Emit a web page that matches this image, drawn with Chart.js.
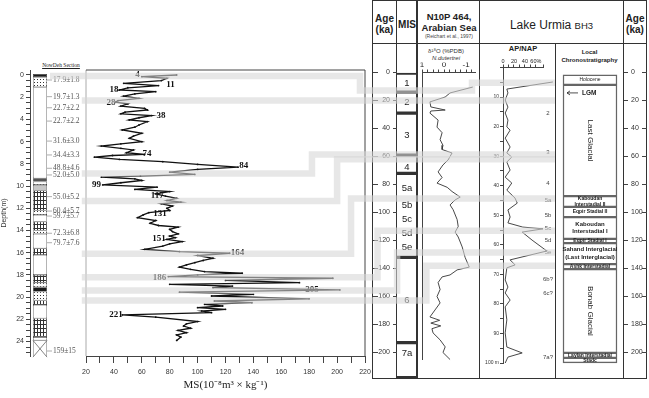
<!DOCTYPE html>
<html>
<head>
<meta charset="utf-8">
<script src="https://cdn.jsdelivr.net/npm/chart.js@4.4.1/dist/chart.umd.min.js"></script>
<style>
  html, body { margin: 0; padding: 0; background: #fff; }
  #fig { position: relative; width: 649px; height: 398px; overflow: hidden; font-family: "Liberation Sans", Arial, sans-serif; color: #222; }
  #fig canvas { position: absolute; left: 0; top: 0; }
  .t { position: absolute; text-align: center; white-space: nowrap; line-height: 1.1; }
  .ln { position: absolute; background: #333; }
</style>
</head>
<body>
<div id="fig">
  <!-- table lines of the right panel -->
  <div class="ln" style="left:372px;top:0;width:1px;height:379px"></div>
  <div class="ln" style="left:396px;top:0;width:1px;height:379px"></div>
  <div class="ln" style="left:416px;top:0;width:2px;height:379px"></div>
  <div class="ln" style="left:479px;top:0;width:1px;height:379px"></div>
  <div class="ln" style="left:555px;top:43px;width:1px;height:336px"></div>
  <div class="ln" style="left:623px;top:0;width:1px;height:379px"></div>
  <div class="ln" style="left:646px;top:0;width:1px;height:379px"></div>
  <div class="ln" style="left:372px;top:0;width:275px;height:1px"></div>
  <div class="ln" style="left:372px;top:43px;width:275px;height:1px"></div>
  <div class="ln" style="left:372px;top:378px;width:275px;height:1px"></div>

  <!-- headers -->
  <div class="t" style="left:40px;top:62px;width:42px;font-size:5.5px;font-family:'Liberation Serif',serif;text-decoration:underline">NowDeh Section</div>
  <div class="t" style="left:372px;top:13px;width:25px;font-weight:bold;font-size:10px;line-height:11px">Age<br>(ka)</div>
  <div class="t" style="left:397px;top:19px;width:20px;font-weight:bold;font-size:10px">MIS</div>
  <div class="t" style="left:418px;top:11px;width:62px;font-weight:bold;font-size:9.5px;line-height:11px">N10P 464,<br>Arabian Sea</div>
  <div class="t" style="left:418px;top:34px;width:62px;font-size:5px;color:#444">(Reichart et al., 1997)</div>
  <div class="t" style="left:418px;top:48px;width:56px;font-size:6px;line-height:7px;color:#333">δ¹⁸O (%PDB)<br><i>N.dutertrei</i></div>
  <div class="t" style="left:480px;top:19px;width:143px;font-size:12px">Lake Urmia <span style="font-size:9.5px">BH3</span></div>
  <div class="t" style="left:623px;top:13px;width:24px;font-weight:bold;font-size:10px;line-height:11px">Age<br>(ka)</div>
  <div class="t" style="left:490px;top:45px;width:66px;font-weight:bold;font-size:7.5px">AP/NAP</div>
  <div class="t" style="left:556px;top:48px;width:67px;font-weight:bold;font-size:6px;line-height:8px">Local<br>Chronostratigraphy</div>

  <canvas id="col" width="649" height="398"></canvas>
  <canvas id="ms" width="649" height="398"></canvas>
  <canvas id="mis" width="649" height="398"></canvas>
  <canvas id="n10p" width="649" height="398"></canvas>
  <canvas id="ap" width="649" height="398"></canvas>
  <canvas id="chrono" width="649" height="398"></canvas>
  <canvas id="ageR" width="649" height="398"></canvas>
  <canvas id="bands" width="649" height="398"></canvas>
</div>

<script>
// ---------- NowDeh section (depth in m) ----------
const layerBounds = [-0.1, 0.2, 1.1, 9.3, 9.6, 9.9, 10.4, 12.2, 12.6, 13.2, 14.0, 14.3, 15.6, 16.2, 18.0, 18.7, 19.1, 19.5, 20.3, 20.7, 21.9, 23.6, 23.9, 25.4];
const layerType = ['black', 'dots', 'white', 'dark', 'dots', 'grey', 'brick', 'dots', 'white', 'brick', 'dots', 'white',
  'brick', 'white', 'brick', 'dots', 'black', 'dots', 'brick', 'white', 'brick', 'white', 'cross'];

const oslText = ['17.9±1.8', '19.7±1.3', '22.7±2.2', '22.7±2.2', '31.6±3.0', '34.4±3.3', '48.8±4.6', '52.0±5.0',
  '55.0±5.2', '60.4±5.7', '59.7±5.7', '72.3±6.8', '79.7±7.6', '159±15'];
const oslDepth = [0.45, 1.95, 2.95, 4.15, 5.95, 7.2, 8.4, 9.0, 10.95, 12.25, 12.7, 14.25, 15.1, 24.85];

// magnetic susceptibility profile
const msDepth = [0.0, 0.15, 0.3, 0.5, 0.75, 0.95, 1.15, 1.35, 1.5, 1.7, 1.9, 2.1, 2.3, 2.45, 2.6, 2.8, 3.0, 3.15, 3.35, 3.5,
  3.65, 3.85, 4.05, 4.2, 4.5, 4.7, 4.95, 5.25, 5.5, 5.7, 6.0, 6.2, 6.4, 6.6, 6.75, 7.0, 7.15, 7.25, 7.4, 7.6,
  7.8, 8.05, 8.3, 8.5, 8.75, 8.95, 9.1, 9.2, 9.35, 9.5, 9.7, 9.9, 10.1, 10.3, 10.5, 10.7, 10.9, 11.1, 11.3, 11.45,
  11.6, 11.8, 12.0, 12.2, 12.4, 12.6, 12.85, 13.1, 13.35, 13.55, 13.7, 13.9, 14.1, 14.3, 14.5, 14.65, 14.8, 15.0, 15.2, 15.4,
  15.7, 15.9, 16.05, 16.25, 16.5, 16.7, 16.9, 17.1, 17.3, 17.5, 17.7, 17.85, 18.0, 18.15, 18.3, 18.5, 18.7, 18.85, 19.0, 19.15,
  19.35, 19.55, 19.75, 19.9, 20.15, 20.35, 20.5, 20.65, 20.8, 20.95, 21.1, 21.25, 21.4, 21.6, 21.8, 22.2, 22.4, 22.6, 22.8, 23.0,
  23.2, 23.4, 23.6, 23.9];
const msValue = [85, 60, 78, 74, 47, 72, 50, 44, 70, 55, 47, 58, 43, 41, 50, 45, 62, 64, 48, 45,
  67, 58, 51, 64, 58, 55, 46, 60, 54, 51, 60, 45, 31, 45, 54, 49, 62, 39, 26, 44,
  75, 100, 129, 100, 80, 98, 59, 31, 55, 60, 45, 32, 71, 55, 80, 70, 77, 85, 78, 88,
  74, 82, 78, 80, 65, 61, 57, 70, 66, 72, 86, 80, 82, 86, 80, 84, 78, 89, 80, 75,
  62, 87, 123, 100, 111, 104, 98, 92, 87, 95, 105, 132, 100, 79, 197, 120, 173, 80, 125, 111,
  202, 87, 140, 110, 180, 112, 139, 105, 118, 100, 120, 103, 110, 46, 70, 100, 92, 90, 95, 86,
  92, 85, 88, 85];

// age labels written along the MS curve
const msLabelText = ['4', '11', '18', '28', '38', '74', '84', '99', '117', '131', '151', '164', '186', '205', '221'];
const msLabelDepth = [0.0, 0.9, 1.35, 2.52, 3.7, 7.1, 8.2, 9.9, 10.9, 12.45, 14.76, 16.0, 18.25, 19.36, 21.6];
const msLabelValue = [57, 80.6, 40, 38, 73.8, 63.7, 133, 27.5, 71, 73, 72.3, 128.6, 72.7, 182, 41.5];

// ---------- marine isotope stages (ka) ----------
const misBounds = [0, 14, 29, 59, 72, 132, 193, 218];
const misLabel = ['1', '2', '3', '4', '5a', '5b', '5c', '5d', '5e', '6', '7a'];
const misLabelAge = [7.5, 21, 44.6, 67.5, 82.5, 94.6, 104.6, 115, 125, 162.5, 200.4];

// N10P 464 delta18O
const o18Age = [10.4, 14.6, 17.5, 21, 24.6, 26.8, 27.5, 29, 34, 39, 43, 48, 52, 55, 57.5, 62.5, 66, 71, 75, 79, 82, 85, 89, 91,
  94.6, 98, 105, 110, 114, 117.5, 124.6, 132, 139, 141, 144.6, 146, 150, 155, 160, 164.6, 169.6, 174.6, 177, 179, 181, 183,
  186, 191, 196, 200, 205];
const o18Value = [-1.3, -0.27, -0.05, 0.64, 0.6, -0.05, 0.6, 0.64, 0.27, 0.32, 0.09, 0.18, 0.05, 0.09, -0.36, -0.18, 0.05, 0.27,
  0.09, 0.32, -0.14, -0.36, -0.73, -0.5, -0.27, -0.41, -0.59, -0.64, -0.5, -0.64, -0.82, -0.95, -1.14, -0.59, -0.27, 0.09,
  0.27, 0.18, 0.32, 0.18, 0.41, 0.64, 0.2, 0.6, 0.15, 0.55, 0.5, 0.18, -0.05, 0.05, -0.27];

// ---------- Lake Urmia BH3 (core depth in m) ----------
const apDepth = [4.9, 7.3, 8.6, 11, 13.4, 15.4, 17.8, 20.1, 21.2, 23.9, 26.9, 28.9, 30.3, 32, 34.7, 37.1, 39.1, 41.5, 44.2, 45.9,
  48.2, 50.6, 52.6, 54, 54.6, 55.7, 58.4, 62.1, 65.1, 66.8, 67.8, 71.9, 74.3, 76.3, 78.7, 81, 85.4, 89.8, 94.6, 96.6, 98, 100];
const apValue = [91, 7, 9, 4, 9, 4, 9, 7, 13, 4, 13, 7, 16, 7, 13, 4, 16, 7, 22, 26,
  9, 13, 9, 36, 73, 35, 53, 80, 13, 22, 7, 4, 9, 4, 13, 4, 7, 4, 7, 35, 9, 4];
const apStageLabel = ['2', '3', '4', '5a', '5b', '5c', '5d', '5e', '6b?', '6c?', '7a?'];
const apStageDepth = [15.4, 28.6, 39.1, 44.8, 49.9, 54.3, 58.4, 62.4, 71.6, 76.3, 98.0];

const chronoBounds = [2.5, 5.9, 43.5, 47.2, 50.6, 58.0, 59.4, 66.5, 68.2, 96.6, 98.3, 100];
const chronoName = ['Holocene', 'Last Glacial', 'Kaboudan\nInterstadial II', 'Eqpir Stadial II', 'Kaboudan\nInterstadial I',
  'Eqpir Stadial I', 'Sahand Interglacial\n(Last Interglacial)', 'Ashk Interstadial', 'Bonab Glacial', 'Laylan Interstadial', 'Stadc'];
const lgmDepth = 8.6;

// ---------- correlation bands: section depth (m) -> age (ka) ----------
const bandDepth = [0.1, 2.3, 8.87, 11.35, 16.1, 18.2, 19.4, 20.3];
const bandAge = [12.9, 20, 58.6, 62, 90, 113, 128.6, 138];
const bandStart = [-5.8, 17, 17, 17, 17, 17, 17, 17];       // MS-axis units
const bandTurn = [216.4, 216.4, 182, 200, 210, 229, 243, 264]; // MS-axis units
const bandCoreDepth = [5.2, null, null, null, null, null, null, null];

const W = 649, H = 398;
const SANS = '"Liberation Sans", Arial, sans-serif';
const SERIF = '"Liberation Serif", "Times New Roman", serif';

Chart.defaults.font.family = SANS;
Chart.defaults.color = '#333';
Chart.defaults.animation = false;
Chart.defaults.events = [];
Chart.defaults.plugins.legend.display = false;
Chart.defaults.plugins.tooltip.enabled = false;

function fillFor(kind) {
  if (kind === 'black') return '#1a1a1a';
  if (kind === 'dark') return '#555';
  if (kind === 'grey') return '#c8c8c8';
  if (kind === 'white' || kind === 'cross') return '#fff';
  const c = document.createElement('canvas');
  const g = c.getContext('2d');
  if (kind === 'dots') {
    c.width = 3; c.height = 3;
    g.fillStyle = '#fff'; g.fillRect(0, 0, 3, 3);
    g.fillStyle = '#333'; g.fillRect(1, 1, 1, 1);
  } else {
    c.width = 3; c.height = 4;
    g.fillStyle = '#fff'; g.fillRect(0, 0, 3, 4);
    g.fillStyle = '#333'; g.fillRect(0, 0, 3, 1); g.fillRect(1, 1, 1, 3);
  }
  return g.createPattern(c, 'repeat');
}

function line(ctx, x1, y1, x2, y2) {
  ctx.beginPath(); ctx.moveTo(x1, y1); ctx.lineTo(x2, y2); ctx.stroke();
}

// ---------- stratigraphic column + depth axis ----------
const colChart = new Chart(document.getElementById('col'), {
  type: 'bar',
  data: {
    labels: ['section'],
    datasets: layerType.map((k, i) => ({
      data: [[layerBounds[i], layerBounds[i + 1]]],
      backgroundColor: fillFor(k),
      borderColor: '#333',
      borderWidth: 0.6,
      borderSkipped: false,
      grouped: false,
      barPercentage: 0.7,
      categoryPercentage: 1
    }))
  },
  options: {
    responsive: false,
    devicePixelRatio: 1,
    layout: { padding: { left: 0, right: W - 50, top: 70, bottom: H - 356 } },
    scales: {
      x: { display: false },
      y: {
        min: -0.45, max: 25.3, reverse: true,
        afterFit: s => { s.width = 30; },
        ticks: { stepSize: 0.5, includeBounds: false, autoSkip: false, font: { size: 7 }, color: '#333', padding: 2,
          callback: v => (v % 2 === 0 ? v : '') },
        grid: { drawOnChartArea: false, tickLength: 4, color: '#444' },
        border: { color: '#444' },
        title: { display: true, text: 'Depth(m)', font: { size: 7 }, padding: 0, color: '#333' }
      }
    }
  },
  plugins: [{
    id: 'osl',
    afterDatasetsDraw(chart) {
      const { ctx, chartArea: a, scales: { y } } = chart;
      ctx.save();
      // crossed box at the base
      const ci = layerType.indexOf('cross');
      const bar = chart.getDatasetMeta(ci).data[0];
      const l = bar.x - bar.width / 2, r = bar.x + bar.width / 2;
      const t = Math.min(bar.y, bar.base), b = Math.max(bar.y, bar.base);
      ctx.strokeStyle = '#333'; ctx.lineWidth = 0.6;
      line(ctx, l, t, r, b); line(ctx, r, t, l, b);
      // luminescence ages
      ctx.font = '7.5px ' + SERIF;
      ctx.fillStyle = '#555'; ctx.strokeStyle = '#777';
      ctx.textBaseline = 'middle'; ctx.textAlign = 'left';
      oslText.forEach((txt, i) => {
        const py = y.getPixelForValue(oslDepth[i]);
        line(ctx, a.right - 3, py, a.right + 2, py);
        ctx.fillText(txt, a.right + 3, py);
      });
      ctx.restore();
    }
  }]
});

// ---------- magnetic susceptibility ----------
const msChart = new Chart(document.getElementById('ms'), {
  type: 'line',
  data: {
    datasets: [{
      data: msDepth.map((d, i) => ({ x: msValue[i], y: d })),
      borderColor: '#111',
      borderWidth: 1.3,
      pointRadius: 0.9,
      pointBackgroundColor: '#111',
      pointBorderWidth: 0,
      tension: 0,
      clip: false
    }]
  },
  options: {
    responsive: false,
    devicePixelRatio: 1,
    layout: { padding: { left: 86, right: W - 365, top: 70, bottom: H - 356 - 36 } },
    scales: {
      x: {
        type: 'linear', min: 20, max: 220,
        afterFit: s => { s.height = 36; },
        ticks: { stepSize: 10, autoSkip: false, maxRotation: 0, font: { size: 7 }, color: '#333', padding: 5,
          callback: v => (v % 20 === 0 ? v : '') },
        grid: { drawOnChartArea: false, tickLength: 7, color: '#444' },
        border: { color: '#444' },
        title: { display: true, text: 'MS(10⁻⁸m³ × kg⁻¹)', font: { family: SERIF, size: 11 }, color: '#222', padding: { top: 2, bottom: 0 } }
      },
      y: { type: 'linear', min: -0.45, max: 25.3, reverse: true, display: false }
    }
  },
  plugins: [{
    id: 'frameAndLabels',
    beforeDatasetsDraw(chart) {
      const { ctx, chartArea: a } = chart;
      ctx.save();
      ctx.lineWidth = 1;
      ctx.strokeStyle = '#aaa'; line(ctx, a.left, a.top, a.left, a.bottom);
      ctx.strokeStyle = '#444'; line(ctx, a.left, a.top, a.right, a.top); line(ctx, a.right, a.top, a.right, a.bottom);
      ctx.restore();
    },
    afterDatasetsDraw(chart) {
      const { ctx, scales: { x, y } } = chart;
      ctx.save();
      ctx.font = 'bold 9px ' + SERIF;
      ctx.fillStyle = '#111'; ctx.textAlign = 'center'; ctx.textBaseline = 'middle';
      msLabelText.forEach((txt, i) => ctx.fillText(txt, x.getPixelForValue(msLabelValue[i]), y.getPixelForValue(msLabelDepth[i])));
      ctx.restore();
    }
  }]
});

// extra tick marks on the outer side of an age axis
function outerTicks(side) {
  return {
    id: 'outerTicks',
    afterDraw(chart) {
      const { ctx, scales: { y } } = chart;
      ctx.save(); ctx.strokeStyle = '#444'; ctx.lineWidth = 1;
      y.ticks.forEach(t => {
        const py = y.getPixelForValue(t.value);
        if (side === 'left') line(ctx, y.left + 1, py, y.left + 6, py);
        else line(ctx, y.right - 6, py, y.right - 1, py);
      });
      ctx.restore();
    }
  };
}

// ---------- age axis + MIS column ----------
const misChart = new Chart(document.getElementById('mis'), {
  type: 'bar',
  data: {
    labels: ['MIS'],
    datasets: misBounds.slice(0, -1).map((s, i) => ({
      data: [[s, misBounds[i + 1]]],
      backgroundColor: 'rgba(0,0,0,0)',
      borderColor: '#333',
      borderWidth: { top: 1.3, bottom: 1.3, left: 0, right: 0 },
      borderSkipped: false,
      grouped: false,
      barPercentage: 1,
      categoryPercentage: 1,
      clip: false
    }))
  },
  options: {
    responsive: false,
    devicePixelRatio: 1,
    layout: { padding: { left: 372, right: W - 417, top: 72.5, bottom: H - 352.5 } },
    scales: {
      x: { display: false },
      y: {
        min: 0, max: 200, reverse: true,
        afterFit: s => { s.width = 25; },
        ticks: { stepSize: 20, font: { size: 7 }, color: '#333', padding: 3 },
        grid: { drawOnChartArea: false, tickLength: 4, color: '#444' },
        border: { display: false }
      }
    }
  },
  plugins: [outerTicks('left'), {
    id: 'misText',
    afterDatasetsDraw(chart) {
      const { ctx, chartArea: a, scales: { y } } = chart;
      ctx.save();
      ctx.font = '9.5px ' + SANS; ctx.fillStyle = '#222';
      ctx.textAlign = 'center'; ctx.textBaseline = 'middle';
      misLabel.forEach((t, i) => ctx.fillText(t, (a.left + a.right) / 2, y.getPixelForValue(misLabelAge[i])));
      ctx.restore();
    }
  }]
});

// ---------- N10P 464 oxygen isotopes ----------
const n10pChart = new Chart(document.getElementById('n10p'), {
  type: 'line',
  data: {
    datasets: [{
      data: o18Age.map((a, i) => ({ x: o18Value[i], y: a })),
      borderColor: '#333', borderWidth: 0.9, pointRadius: 0, tension: 0, clip: false
    }]
  },
  options: {
    responsive: false,
    devicePixelRatio: 1,
    layout: { padding: { left: 422, right: W - 475, top: 72.5 - 10, bottom: H - 359.5 } },
    scales: {
      x: {
        type: 'linear', position: 'top', min: -1.4, max: 1, reverse: true,
        afterFit: s => { s.height = 10; },
        ticks: { stepSize: 0.25, includeBounds: false, autoSkip: false, maxRotation: 0, font: { size: 8 }, color: '#222', padding: 0,
          callback: v => (Number.isInteger(v) ? v : '') },
        grid: { drawOnChartArea: false, tickLength: 3, color: '#444' },
        border: { color: '#444' }
      },
      y: {
        type: 'linear', min: 0, max: 205, reverse: true,
        afterFit: s => { s.width = 0; },
        ticks: { display: false }, grid: { display: false }, border: { color: '#444' }
      }
    }
  }
});

// ---------- AP/NAP pollen ratio ----------
const apChart = new Chart(document.getElementById('ap'), {
  type: 'line',
  data: {
    datasets: [{
      data: apDepth.map((d, i) => ({ x: apValue[i], y: d })),
      borderColor: '#333', borderWidth: 0.9, pointRadius: 0, tension: 0, clip: false
    }]
  },
  options: {
    responsive: false,
    devicePixelRatio: 1,
    layout: { padding: { left: 480, right: W - 543, top: 67.5 - 9, bottom: H - 363 } },
    scales: {
      x: {
        type: 'linear', position: 'top', min: 0, max: 73,
        afterFit: s => { s.height = 9; },
        ticks: { stepSize: 10, autoSkip: false, maxRotation: 0, font: { size: 5.5 }, color: '#222', padding: 0,
          callback: v => (v === 60 ? '60%' : (v % 20 === 0 ? v : '')) },
        grid: { drawOnChartArea: false, tickLength: 3, color: '#444' },
        border: { color: '#444' }
      },
      y: {
        type: 'linear', min: 0, max: 100, reverse: true,
        afterFit: s => { s.width = 23; },
        ticks: { stepSize: 5, autoSkip: false, font: { size: 5 }, color: '#333', padding: 1,
          callback: v => (v === 100 ? '100 m' : (v > 0 && v % 10 === 0 ? v : '')) },
        grid: { drawOnChartArea: false, tickLength: 3, color: '#444' },
        border: { color: '#444' }
      }
    }
  },
  plugins: [{
    id: 'stageText',
    afterDatasetsDraw(chart) {
      const { ctx, chartArea: a, scales: { y } } = chart;
      ctx.save();
      ctx.font = '6px ' + SANS; ctx.fillStyle = '#444';
      ctx.textAlign = 'center'; ctx.textBaseline = 'middle';
      apStageLabel.forEach((t, i) => ctx.fillText(t, a.right + 5, y.getPixelForValue(apStageDepth[i])));
      ctx.restore();
    }
  }]
});

// ---------- local chronostratigraphy ----------
const chronoChart = new Chart(document.getElementById('chrono'), {
  type: 'bar',
  data: {
    labels: ['units'],
    datasets: chronoName.map((n, i) => ({
      data: [[chronoBounds[i], chronoBounds[i + 1]]],
      backgroundColor: 'rgba(0,0,0,0)',
      borderColor: '#666', borderWidth: 0.8, borderSkipped: false,
      grouped: false, barPercentage: 1, categoryPercentage: 1, clip: false
    }))
  },
  options: {
    responsive: false,
    devicePixelRatio: 1,
    layout: { padding: { left: 563, right: W - 617, top: 67.5, bottom: H - 363 } },
    scales: {
      x: { display: false },
      y: { type: 'linear', min: 0, max: 100, reverse: true, display: false }
    }
  },
  plugins: [{
    id: 'chronoText',
    afterDatasetsDraw(chart) {
      const { ctx, chartArea: a, scales: { y } } = chart;
      const cx = (a.left + a.right) / 2;
      ctx.save();
      ctx.fillStyle = '#222'; ctx.textAlign = 'center'; ctx.textBaseline = 'middle';
      chronoName.forEach((name, i) => {
        const y0 = y.getPixelForValue(chronoBounds[i]), y1 = y.getPixelForValue(chronoBounds[i + 1]);
        const h = y1 - y0, cy = (y0 + y1) / 2;
        if (h > 60) {
          ctx.save(); ctx.translate(cx, cy); ctx.rotate(Math.PI / 2);
          ctx.font = '8px ' + SANS; ctx.fillText(name, 0, 0); ctx.restore();
          return;
        }
        const lines = name.split('\n');
        const fs = h > 18 ? 6 : 5;
        ctx.font = (i === 0 ? '' : 'bold ') + fs + 'px ' + SANS;
        lines.forEach((ln, k) => ctx.fillText(ln, cx, cy + (k - (lines.length - 1) / 2) * (fs + 1.5)));
      });
      // LGM arrow
      const ly = y.getPixelForValue(lgmDepth);
      ctx.strokeStyle = '#222'; ctx.lineWidth = 0.8;
      line(ctx, a.left + 4, ly, a.left + 15, ly);
      line(ctx, a.left + 4, ly, a.left + 7, ly - 2); line(ctx, a.left + 4, ly, a.left + 7, ly + 2);
      ctx.font = 'bold 6.5px ' + SANS; ctx.textAlign = 'left';
      ctx.fillText('LGM', a.left + 19, ly);
      ctx.restore();
    }
  }]
});

// ---------- right age axis ----------
const ageRChart = new Chart(document.getElementById('ageR'), {
  type: 'line',
  data: { datasets: [] },
  options: {
    responsive: false,
    devicePixelRatio: 1,
    layout: { padding: { left: 623, right: W - 624 - 24, top: 72.5, bottom: H - 352.5 } },
    scales: {
      x: { type: 'linear', display: false, min: 0, max: 1 },
      y: {
        type: 'linear', position: 'right', min: 0, max: 200, reverse: true,
        afterFit: s => { s.width = 24; },
        ticks: { stepSize: 20, font: { size: 7 }, color: '#333', padding: 3 },
        grid: { drawOnChartArea: false, tickLength: 4, color: '#444' },
        border: { display: false }
      }
    }
  },
  plugins: [outerTicks('right')]
});

// ---------- grey correlation bands drawn over everything ----------
const msX = msChart.scales.x, msY = msChart.scales.y, ageY = misChart.scales.y, coreY = apChart.scales.y;
const bandEndX = apChart.chartArea.right + 12;
const stepX = n10pChart.chartArea.right - 3;
const bandSets = bandDepth.map((d, i) => {
  const yL = msY.getPixelForValue(d), yR = ageY.getPixelForValue(bandAge[i]);
  const xt = msX.getPixelForValue(bandTurn[i]);
  const pts = [{ x: msX.getPixelForValue(bandStart[i]), y: yL }, { x: xt, y: yL }, { x: xt, y: yR }];
  if (bandCoreDepth[i] !== null) {
    const yC = coreY.getPixelForValue(bandCoreDepth[i]);
    pts.push({ x: stepX, y: yR }, { x: stepX, y: yC }, { x: bandEndX, y: yC });
  } else {
    pts.push({ x: bandEndX, y: yR });
  }
  return {
    data: pts,
    borderColor: 'rgba(214,214,214,0.58)',
    borderWidth: 6.5,
    borderJoinStyle: 'miter',
    borderCapStyle: 'butt',
    pointRadius: 0,
    tension: 0,
    clip: false
  };
});

new Chart(document.getElementById('bands'), {
  type: 'line',
  data: { datasets: bandSets },
  options: {
    responsive: false,
    devicePixelRatio: 1,
    layout: { padding: 0 },
    scales: {
      x: { type: 'linear', min: 0, max: W, display: false },
      y: { type: 'linear', min: 0, max: H, reverse: true, display: false }
    }
  }
});
</script>
</body>
</html>
